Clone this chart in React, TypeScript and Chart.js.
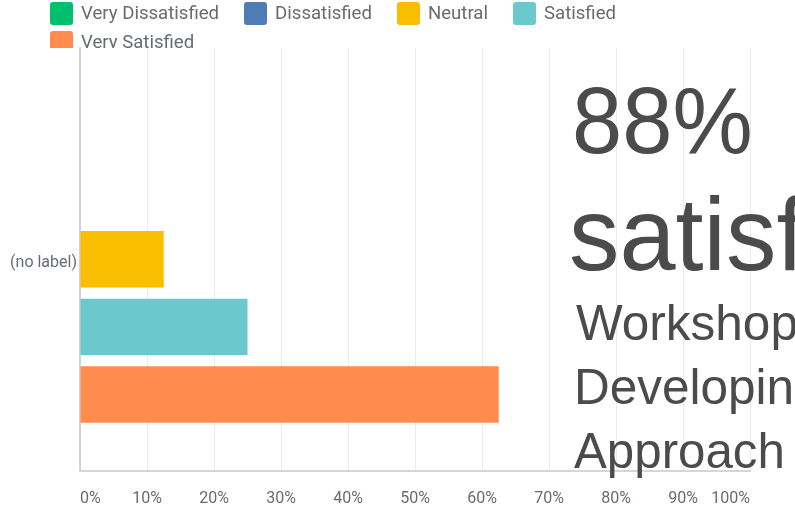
import React, { useEffect, useRef } from "react";
import { Chart, registerables } from "chart.js";

Chart.register(...registerables);

// ---- data ----
const categories = ["(no label)"];
const seriesNames = ["Very Dissatisfied", "Dissatisfied", "Neutral", "Satisfied", "Very Satisfied"];
const veryDissatisfied = [0];
const dissatisfied = [0];
const neutral = [12.5];
const satisfied = [25];
const verySatisfied = [62.5];
const seriesColors = ["#00bf6f", "#507cb6", "#f9be00", "#6bc8cd", "#ff8b4f"];
const tickValues = [0, 10, 20, 30, 40, 50, 60, 70, 80, 90, 100];
const overlayTexts = ["88%", "satisf", "Workshop", "Developin", "Approach"];

const TEXT_GRAY = "#676c72";

// styles for overlay lines (not data)
const overlayStyles = [
  { size: 95, x: 572, base: 153, sx: 0.95 },
  { size: 104, x: 569, base: 270, sx: 0.97 },
  { size: 50, x: 576, base: 340, sx: 0.99 },
  { size: 50, x: 574, base: 404, sx: 0.99 },
  { size: 50, x: 574, base: 468, sx: 0.985 },
];

const overlayPlugin = {
  id: "overlayText",
  afterDraw(chart: any) {
    const ctx = chart.ctx as CanvasRenderingContext2D;
    ctx.save();
    ctx.fillStyle = "#4b4b4b";
    ctx.textBaseline = "alphabetic";
    ctx.textAlign = "left";
    overlayTexts.forEach((t, i) => {
      const s = overlayStyles[i];
      ctx.save();
      ctx.translate(s.x, s.base);
      ctx.scale(s.sx, 1);
      ctx.font = `${s.size}px "Liberation Sans", Arial, sans-serif`;
      ctx.fillText(t, 0, 0);
      ctx.restore();
    });
    ctx.restore();
  },
};

function Legend() {
  return (
    <div
      style={{
        position: "absolute",
        left: 50,
        top: 2,
        width: 640,
        height: 46,
        overflow: "hidden",
        display: "flex",
        flexWrap: "wrap",
        columnGap: 25,
        rowGap: 6,
        alignContent: "flex-start",
        fontFamily: "Roboto, sans-serif",
        fontSize: 18.6,
        color: TEXT_GRAY,
      }}
    >
      {seriesNames.map((n, i) => (
        <div key={n} style={{ display: "flex", alignItems: "center", height: 23 }}>
          <span
            style={{
              display: "inline-block",
              width: 23,
              height: 23,
              borderRadius: 3,
              background: seriesColors[i],
              marginRight: 8,
            }}
          />
          <span style={{ lineHeight: "23px" }}>{n}</span>
        </div>
      ))}
    </div>
  );
}

export default function App() {
  const ref = useRef<HTMLCanvasElement | null>(null);
  useEffect(() => {
    if (!ref.current) return;
    const values = [veryDissatisfied, dissatisfied, neutral, satisfied, verySatisfied];
    const chart = new Chart(ref.current, {
      type: "bar",
      data: {
        labels: categories,
        datasets: seriesNames.map((name, i) => ({
          label: name,
          data: values[i],
          backgroundColor: seriesColors[i],
          borderWidth: 0,
          categoryPercentage: 0.8,
          barPercentage: 0.835,
        })),
      },
      options: {
        indexAxis: "y",
        animation: false,
        responsive: true,
        maintainAspectRatio: false,
        layout: { padding: { top: 48, right: 45, left: 0, bottom: 0 } },
        plugins: { legend: { display: false }, tooltip: { enabled: false } },
        scales: {
          x: {
            min: 0,
            max: 100,
            afterBuildTicks: (scale: any) => {
              scale.ticks = tickValues.map((v) => ({ value: v }));
            },
            afterFit: (scale: any) => {
              scale.height = 35.5;
            },
            ticks: {
              align: "inner",
              padding: 19,
              color: TEXT_GRAY,
              font: { family: "Roboto, sans-serif", size: 16 },
              callback: (v: any) => `${v}%`,
            },
            grid: { color: "#ebebeb", drawTicks: false, lineWidth: 1 },
            border: { color: "#d6d6d6", width: 2 },
          },
          y: {
            afterFit: (scale: any) => {
              scale.width = 80;
            },
            ticks: {
              padding: 3,
              labelOffset: 4,
              color: TEXT_GRAY,
              font: { family: "Roboto, sans-serif", size: 16 },
            },
            grid: { display: false, drawTicks: false },
            border: { color: "#d2d2d2", width: 2 },
          },
        },
      },
      plugins: [overlayPlugin],
    });
    return () => chart.destroy();
  }, []);

  return (
    <div
      style={{
        position: "absolute",
        left: 0,
        top: 0,
        width: 795,
        height: 506,
        overflow: "hidden",
        background: "#fff",
      }}
    >
      <div style={{ position: "absolute", left: 0, top: 0, width: 795, height: 506 }}>
        <canvas ref={ref} />
      </div>
      <Legend />
    </div>
  );
}
